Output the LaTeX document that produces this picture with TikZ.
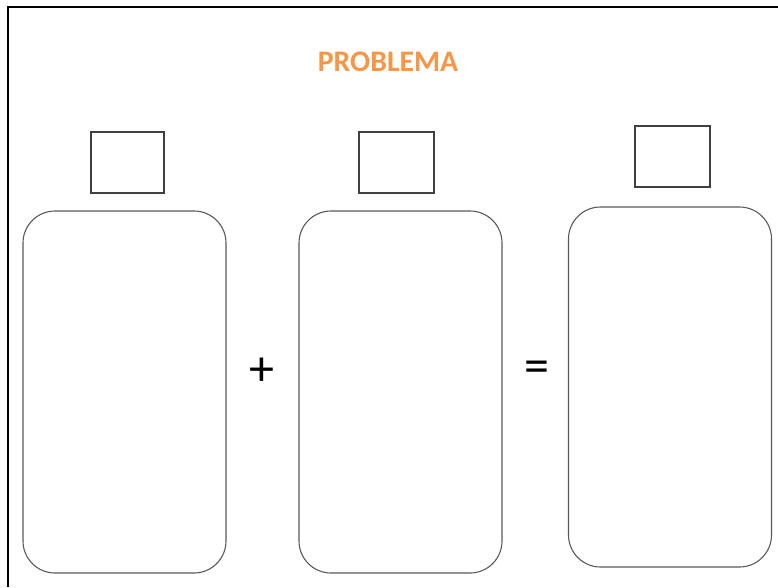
\documentclass[tikz,border=0pt]{standalone}
\usepackage{fontspec}
\setmainfont{Carlito}
\usepackage{xcolor}
\usepackage{tikz}
\usetikzlibrary{positioning,calc}
\definecolor{titleorange}{HTML}{F79646}
\definecolor{boxgray}{HTML}{404040}
\definecolor{bottlegray}{HTML}{595959}

\begin{document}
\begin{tikzpicture}[x=1pt,y=-1pt,
    label box/.style={draw=boxgray,line width=1.1pt,minimum width=73pt,minimum height=61pt,inner sep=0pt},
    bottle/.style={draw=bottlegray,line width=1.1pt,rounded corners=32pt,minimum width=203pt,minimum height=362pt,inner sep=0pt},
    sign/.style={font=\fontsize{50}{50}\selectfont,inner sep=0pt}]
  \useasboundingbox (0,0) rectangle (778,587);

  % Frame
  \draw[line width=2pt] (778,7) -- (8,7) -- (8,587);

  % Title
  \node[font=\bfseries\fontsize{29.8}{32}\selectfont,text=titleorange] (title) at (388,62) {PROBLEMA};

  % Bottles
  \node[bottle] (bottleA) at (124.5,392) {};
  \node[bottle] (bottleB) at (400.5,392) {};
  \node[bottle,minimum height=360pt] (bottleC) at (670,387) {};

  % Boxes above the bottles
  \node[label box] (boxA) at (127.5,162.5) {};
  \node[label box,minimum width=75pt] (boxB) at (396.5,162.5) {};
  \node[label box,minimum width=75pt] (boxC) at (672.5,156.5) {};

  % Signs
  \node[sign] (plus) at (262,372) {+};
  \node[sign] (equals) at (537,372) {=};
\end{tikzpicture}
\end{document}
